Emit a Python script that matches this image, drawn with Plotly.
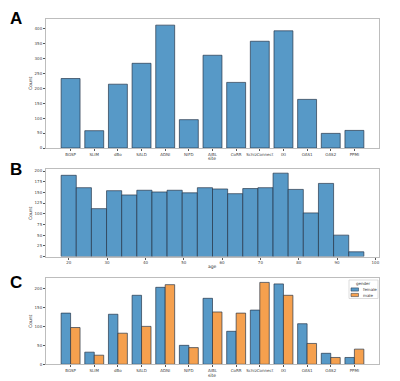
import numpy as np
import plotly.graph_objects as go

sites = ["BGSP", "SLIM", "dBo", "SALD", "ADNI", "NIFD", "AIBL", "CoRR",
         "SchizConnect", "IXI", "OAS1", "OAS2", "PPMI"]
site_counts = [233, 58, 214, 284, 412, 95, 311, 220, 358, 393, 163, 49, 59]

age_min, age_max, n_bins = 18, 97, 20
age_counts = [190, 161, 112, 154, 144, 155, 151, 155, 149, 161,
              158, 147, 159, 161, 195, 157, 102, 171, 50, 11]

female_counts = [135, 32, 132, 182, 203, 50, 174, 87, 143, 212, 107, 29, 18]
male_counts = [97, 24, 82, 100, 210, 44, 138, 135, 216, 182, 55, 18, 40]
genders = ["female", "male"]

blue = "#5799c7"
orange = "#f5a04e"
edge = "rgba(35,50,70,0.85)"
frame = "#bdbdbd"
FONT = "DejaVu Sans"
tick_font = dict(family=FONT, size=4, color="#444")

# page body has an 8px margin: the figure is drawn 8px in from the top-left corner
OFF = 8
W, H = 400 - OFF, 381 - OFF
def X(px):
    return (px - OFF) / W
def Y(py):
    return 1 - (py - OFF) / H
def xd(a, b):
    return [X(a), X(b)]
def yd(top, bot):
    return [Y(bot), Y(top)]

idx = list(range(len(sites)))
edges = np.linspace(age_min, age_max, n_bins + 1)
centers = (edges[:-1] + edges[1:]) / 2
bw = edges[1] - edges[0]

fig = go.Figure()
fig.add_trace(go.Bar(x=idx, y=site_counts, width=0.8, marker=dict(color=blue, line=dict(color=edge, width=0.8)),
                     showlegend=False, xaxis="x", yaxis="y"))
fig.add_trace(go.Bar(x=centers, y=age_counts, width=bw, marker=dict(color=blue, line=dict(color=edge, width=0.8)),
                     showlegend=False, xaxis="x2", yaxis="y2"))
fig.add_trace(go.Bar(x=[i - 0.2 for i in idx], y=female_counts, width=0.4, name=genders[0], showlegend=False,
                     marker=dict(color=blue, line=dict(color=edge, width=0.8)), xaxis="x3", yaxis="y3"))
fig.add_trace(go.Bar(x=[i + 0.2 for i in idx], y=male_counts, width=0.4, name=genders[1], showlegend=False,
                     marker=dict(color=orange, line=dict(color=edge, width=0.8)), xaxis="x3", yaxis="y3"))

ax_common = dict(showline=True, linecolor=frame, linewidth=1, mirror=True, showgrid=False, zeroline=False,
                 ticks="outside", ticklen=2, tickcolor="#555", tickfont=tick_font, automargin=False,
                 tickangle=0)

xr = [-1.04, 13.04]
fig.update_layout(
    width=W, height=H, margin=dict(l=0, r=0, t=0, b=0),
    paper_bgcolor="white", plot_bgcolor="white", barmode="overlay", showlegend=False,
    xaxis=dict(domain=xd(46, 379), anchor="y", range=xr, tickmode="array", tickvals=idx, ticktext=sites, **ax_common),
    yaxis=dict(domain=yd(19, 148), anchor="x", range=[0, 432.6], dtick=50, **ax_common),
    xaxis2=dict(domain=xd(46, 379), anchor="y2", range=[14.05, 100.95], dtick=10, **ax_common),
    yaxis2=dict(domain=yd(169, 256.5), anchor="x2", range=[0, 204.75], dtick=25, **ax_common),
    xaxis3=dict(domain=xd(46, 379), anchor="y3", range=xr, tickmode="array", tickvals=idx, ticktext=sites, **ax_common),
    yaxis3=dict(domain=yd(278.3, 364.3), anchor="x3", range=[0, 226.8], dtick=50, **ax_common),
)

ann = []
def txt(t, x, y, size=4.5, angle=0, bold=False, family=FONT, color="#333", xanchor="center"):
    ann.append(dict(text=f"<b>{t}</b>" if bold else t, x=X(x), y=Y(y), xref="paper", yref="paper",
                    showarrow=False, textangle=angle, xanchor=xanchor, yanchor="middle",
                    font=dict(family=family, size=size, color=color)))

# panel letters
txt("A", 16, 18, size=17, bold=True, family="Liberation Sans", color="black")
txt("B", 16, 169, size=17, bold=True, family="Liberation Sans", color="black")
txt("C", 16, 282, size=17, bold=True, family="Liberation Sans", color="black")
# axis titles
txt("site", 212, 158.5)
txt("age", 212, 266.5)
txt("site", 212, 375.5)
txt("Count", 30, 83, angle=-90)
txt("Count", 30, 213, angle=-90)
txt("Count", 30, 321, angle=-90)

# manual legend
shapes = [dict(type="rect", xref="paper", yref="paper", x0=X(349), x1=X(378), y0=Y(298.5), y1=Y(280),
               line=dict(color="#d4d4d4", width=0.8), fillcolor="rgba(255,255,255,0.85)")]
txt("gender", 363.5, 283.5, size=4)
for i, (g, c) in enumerate(zip(genders, [blue, orange])):
    yc = 289.5 + i * 5.5
    shapes.append(dict(type="rect", xref="paper", yref="paper", x0=X(351), x1=X(358.5),
                       y0=Y(yc + 1.6), y1=Y(yc - 1.6),
                       line=dict(color=edge, width=0.6), fillcolor=c))
    txt(g, 360.5, yc, size=4, xanchor="left")

fig.update_layout(annotations=ann, shapes=shapes)

fig.write_html("out.html")
